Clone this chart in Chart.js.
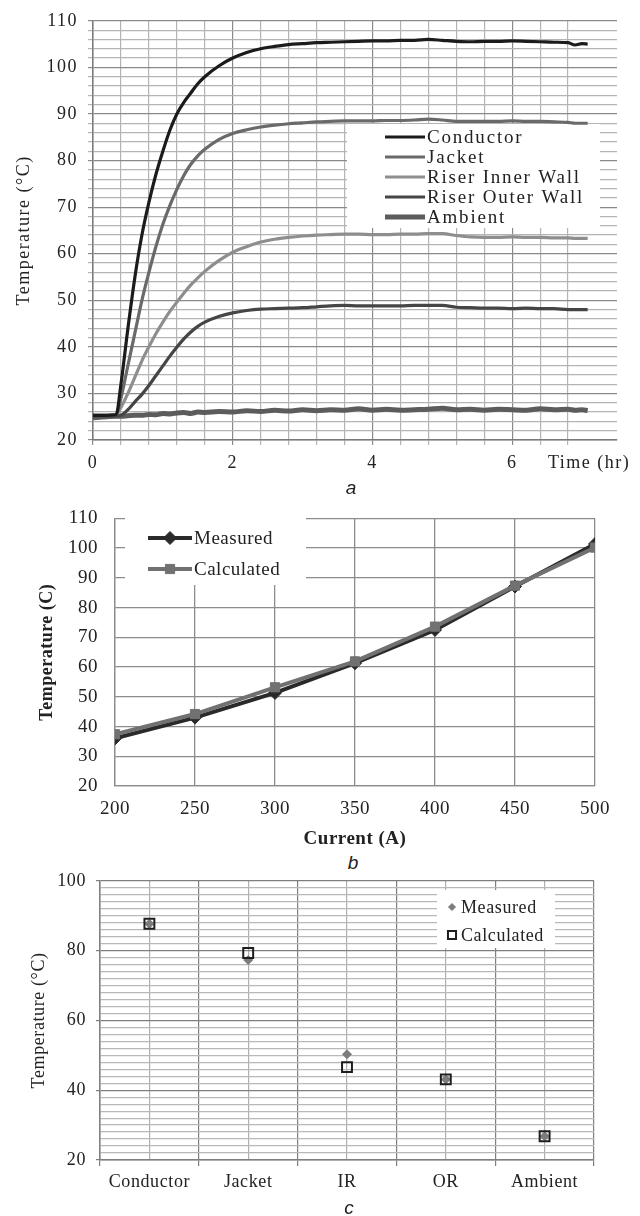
<!DOCTYPE html>
<html>
<head>
<meta charset="utf-8">
<script src="https://cdn.jsdelivr.net/npm/chart.js@4.4.1/dist/chart.umd.min.js"></script>
<style>
  body { margin: 0; background: #fff; width: 640px; height: 1216px; position: relative; overflow: hidden; }
  canvas { position: absolute; left: 0; }
  .cap { position: absolute; width: 40px; margin-left: -20px; height: 22px; line-height: 22px; text-align: center;
         font: italic 19px "Liberation Sans", Arial, sans-serif; color: #222; }
</style>
</head>
<body>
<canvas id="chartA" width="640" height="480" style="top:0px"></canvas>
<div class="cap" style="left:351px;top:477px">a</div>
<canvas id="chartB" width="640" height="362" style="top:490px"></canvas>
<div class="cap" style="left:353px;top:852px">b</div>
<canvas id="chartC" width="640" height="340" style="top:860px"></canvas>
<div class="cap" style="left:349px;top:1197px">c</div>

<script>
const SERIF = '"Liberation Serif", "Times New Roman", serif';

// --- a: temperatura vs tiempo ---
const horas = [0, 0.1, 0.2, 0.33, 0.4, 0.5, 0.6, 0.7, 0.8, 0.9, 1.0, 1.1, 1.2, 1.3, 1.4, 1.5, 1.6,
  1.8, 2.0, 2.2, 2.4, 2.6, 2.8, 3.0, 3.2, 3.4, 3.6, 3.8, 4.0, 4.2, 4.4, 4.6, 4.8, 5.0, 5.2, 5.4,
  5.6, 5.8, 6.0, 6.2, 6.4, 6.6, 6.8, 6.9, 7.0, 7.08];
const conductor = [25.3, 25.3, 25.3, 25.4, 32, 44, 55, 64, 71, 77, 82, 86.5, 90, 92.5, 94.5, 96.5, 98,
  100.3, 102, 103.2, 104, 104.5, 104.9, 105.1, 105.3, 105.4, 105.5, 105.6, 105.7, 105.7, 105.8, 105.8, 106.0, 105.8, 105.6, 105.5,
  105.6, 105.6, 105.7, 105.6, 105.5, 105.4, 105.3, 104.8, 105.1, 105.0];
const jacket = [25.3, 25.3, 25.3, 25.4, 29, 36, 43, 50, 56, 61.5, 66.3, 70.3, 73.8, 76.8, 79.2, 81.0, 82.4,
  84.5, 85.8, 86.6, 87.2, 87.6, 87.9, 88.1, 88.3, 88.4, 88.5, 88.5, 88.5, 88.6, 88.6, 88.7, 88.9, 88.7, 88.4, 88.4,
  88.4, 88.4, 88.5, 88.4, 88.4, 88.3, 88.2, 88.0, 88.0, 88.0];
const innerWall = [25.3, 25.3, 25.3, 25.4, 27, 30, 33.5, 37, 40, 42.8, 45.3, 47.6, 49.6, 51.5, 53.3, 54.8, 56.2,
  58.5, 60.3, 61.5, 62.5, 63.1, 63.5, 63.8, 64.0, 64.1, 64.2, 64.2, 64.1, 64.1, 64.2, 64.2, 64.3, 64.3, 63.9, 63.6,
  63.5, 63.5, 63.6, 63.5, 63.5, 63.4, 63.4, 63.3, 63.3, 63.3];
const outerWall = [25.2, 25.2, 25.2, 25.2, 25.3, 26.5, 28.2, 29.8, 31.7, 33.8, 35.9, 38.0, 39.9, 41.7, 43.2, 44.4, 45.3,
  46.5, 47.3, 47.8, 48.1, 48.2, 48.3, 48.4, 48.6, 48.8, 48.9, 48.8, 48.8, 48.8, 48.8, 48.9, 48.9, 48.9, 48.5, 48.4,
  48.3, 48.3, 48.2, 48.3, 48.2, 48.2, 48.0, 48.0, 48.0, 48.0];
const ambiente = [24.8, 24.9, 25.0, 25.1, 25.1, 25.2, 25.3, 25.3, 25.5, 25.4, 25.7, 25.6, 25.8, 25.9, 25.7, 26.0, 25.9,
  26.1, 26.0, 26.3, 26.1, 26.4, 26.2, 26.5, 26.3, 26.5, 26.4, 26.7, 26.4, 26.6, 26.4, 26.5, 26.6, 26.8, 26.5, 26.6,
  26.4, 26.6, 26.5, 26.4, 26.7, 26.5, 26.6, 26.4, 26.5, 26.3];

// --- b: temperatura vs corriente ---
const corrientes = [200, 250, 300, 350, 400, 450, 500];
const medidoB = [36.0, 43.0, 51.3, 61.3, 72.5, 87.1, 101.4];
const calculadoB = [37.4, 44.2, 53.2, 61.9, 73.6, 87.4, 100.2];

// --- c: medido vs calculado por capa ---
const partes = ['Conductor', 'Jacket', 'IR', 'OR', 'Ambient'];
const medidoC = [87.7, 77.3, 50.3, 43.1, 26.8];
const calculadoC = [87.7, 79.3, 46.6, 43.1, 26.8];

const puntos = (xs, ys) => xs.map((x, i) => ({ x: x, y: ys[i] }));
const multiplo = (v, m) => Math.abs(v / m - Math.round(v / m)) < 1e-6;
const NADA = 'rgba(0,0,0,0)';

// espaciado de letras (el texto del original es algo ancho)
const espaciado = {
  id: 'espaciado',
  beforeUpdate(chart, args, o) { chart.ctx.letterSpacing = o.valor || '0px'; },
  beforeDraw(chart, args, o) { chart.ctx.letterSpacing = o.valor || '0px'; }
};

// leyenda en caja blanca dentro del área del gráfico
const leyendaCaja = {
  id: 'leyendaCaja',
  beforeDatasetsDraw(chart, args, o) {
    if (!o.caja) return;
    const ctx = chart.ctx;
    const [x0, y0, x1, y1] = o.caja;
    ctx.save();
    ctx.fillStyle = '#fff';
    ctx.fillRect(x0, y0, x1 - x0, y1 - y0);
    ctx.font = o.fuente;
    if (o.espacio) ctx.letterSpacing = o.espacio;
    ctx.textBaseline = 'middle';
    ctx.textAlign = 'left';
    o.orden.forEach((idx, i) => {
      const ds = chart.data.datasets[idx];
      const y = o.primeraY + i * o.paso;
      if (o.linea) {
        ctx.strokeStyle = ds.borderColor;
        ctx.lineWidth = ds.borderWidth;
        ctx.beginPath();
        ctx.moveTo(o.linea[0], y);
        ctx.lineTo(o.linea[1], y);
        ctx.stroke();
      }
      if (o.marcador) {
        ctx.fillStyle = ds.pointBackgroundColor;
        ctx.strokeStyle = ds.pointBorderColor;
        ctx.lineWidth = ds.pointBorderWidth;
        const r = o.radios ? o.radios[i] : ds.pointRadius;
        Chart.helpers.drawPoint(ctx, { pointStyle: ds.pointStyle, radius: r, rotation: 0, borderWidth: ds.pointBorderWidth }, o.marcador, y);
      }
      ctx.fillStyle = o.color;
      ctx.fillText(ds.label, o.textoX, y + 1);
    });
    ctx.restore();
  }
};

// textos sueltos (p.ej. "Time (hr)")
const textoLibre = {
  id: 'textoLibre',
  afterDraw(chart, args, o) {
    if (!o.textos) return;
    const ctx = chart.ctx;
    ctx.save();
    o.textos.forEach(t => {
      ctx.font = t.fuente;
      ctx.fillStyle = t.color;
      ctx.textAlign = 'left';
      ctx.textBaseline = 'middle';
      ctx.fillText(t.texto, t.x, t.y);
    });
    ctx.restore();
  }
};

// ---------- a ----------
const coloresA = ['#1b1b1b', '#6a6a6a', '#8e8e8e', '#454545', '#5c5c5c'];
const seriesA = [
  { label: 'Conductor', data: conductor },
  { label: 'Jacket', data: jacket },
  { label: 'Riser Inner Wall', data: innerWall },
  { label: 'Riser Outer Wall', data: outerWall },
  { label: 'Ambient', data: ambiente }
];

new Chart(document.getElementById('chartA'), {
  type: 'line',
  data: {
    datasets: seriesA.map((s, i) => ({
      label: s.label,
      data: puntos(horas, s.data),
      borderColor: coloresA[i],
      backgroundColor: coloresA[i],
      borderWidth: i === 4 ? 5 : 3.2,
      pointRadius: 0,
      cubicInterpolationMode: 'monotone',
      fill: false
    }))
  },
  options: {
    responsive: false,
    animation: false,
    layout: { padding: { top: 16, right: 23, left: 0, bottom: 0 } },
    plugins: {
      legend: { display: false },
      tooltip: { enabled: false },
      espaciado: { valor: '1.5px' },
      leyendaCaja: {
        caja: [347, 124, 600, 228], orden: [0, 1, 2, 3, 4],
        primeraY: 137, paso: 20, linea: [385, 425], textoX: 427,
        fuente: '19px ' + SERIF, espacio: '1.8px', color: '#222'
      },
      textoLibre: {
        textos: [{ texto: 'Time (hr)', x: 548, y: 463, fuente: '18px ' + SERIF, color: '#222' }]
      }
    },
    scales: {
      x: {
        type: 'linear', min: 0, max: 7.5,
        afterFit: s => { s.height = 40; },
        ticks: {
          stepSize: 0.4, autoSkip: false, maxRotation: 0, padding: 7,
          font: { family: SERIF, size: 18 }, color: '#222',
          callback: v => (multiplo(v, 2) && v < 7) ? v : ''
        },
        grid: {
          color: c => c.tick.value > 7.3 ? NADA : (multiplo(c.tick.value, 2) ? '#8a8a8a' : '#b4b4b4'),
          tickLength: 5, lineWidth: 1.2
        },
        border: { color: '#7a7a7a', width: 1.5 }
      },
      y: {
        min: 20, max: 110,
        afterFit: s => { s.width = 93; },
        ticks: {
          stepSize: 2, autoSkip: false, padding: 10,
          font: { family: SERIF, size: 18 }, color: '#222',
          callback: v => multiplo(v, 10) ? v : ''
        },
        grid: {
          color: c => multiplo(c.tick.value, 10) ? '#8a8a8a' : '#b4b4b4',
          tickLength: 5, lineWidth: 1.2
        },
        border: { color: '#7a7a7a', width: 1.5 },
        title: { display: true, text: 'Temperature (°C)', font: { family: SERIF, size: 18 }, color: '#222', padding: { top: 13, bottom: 0 } }
      }
    }
  },
  plugins: [espaciado, leyendaCaja, textoLibre]
});

// ---------- b ----------
new Chart(document.getElementById('chartB'), {
  type: 'line',
  data: {
    datasets: [
      {
        label: 'Measured', data: puntos(corrientes, medidoB), order: 1,
        borderColor: '#2a2a2a', backgroundColor: '#2a2a2a', borderWidth: 4,
        pointStyle: 'rectRot', pointRadius: 6.5,
        pointBackgroundColor: '#2a2a2a', pointBorderColor: '#2a2a2a', pointBorderWidth: 1
      },
      {
        label: 'Calculated', data: puntos(corrientes, calculadoB), order: 0,
        borderColor: '#717171', backgroundColor: '#717171', borderWidth: 4,
        pointStyle: 'rect', pointRadius: 6.5,
        pointBackgroundColor: '#717171', pointBorderColor: '#717171', pointBorderWidth: 1
      }
    ]
  },
  options: {
    responsive: false,
    animation: false,
    layout: { padding: { top: 18, right: 45, left: 0, bottom: 0 } },
    plugins: {
      legend: { display: false },
      tooltip: { enabled: false },
      espaciado: { valor: '0.5px' },
      leyendaCaja: {
        caja: [125, 28, 306, 95], orden: [0, 1],
        primeraY: 48, paso: 31, linea: [148, 192], marcador: 170, textoX: 194,
        fuente: '19px ' + SERIF, color: '#222'
      }
    },
    scales: {
      x: {
        type: 'linear', min: 200, max: 500,
        afterFit: s => { s.height = 66; },
        ticks: { stepSize: 50, maxRotation: 0, padding: 12, font: { family: SERIF, size: 19 }, color: '#222' },
        grid: { color: '#8c8c8c', lineWidth: 1.3, drawTicks: false },
        border: { color: '#8c8c8c', width: 1.3 },
        title: { display: true, text: 'Current (A)', font: { family: SERIF, size: 19, weight: 'bold' }, color: '#222', padding: { top: 0, bottom: 2 } }
      },
      y: {
        min: 20, max: 110,
        afterFit: s => { s.width = 115; },
        ticks: { stepSize: 10, padding: 17, font: { family: SERIF, size: 19 }, color: '#222' },
        grid: { color: '#8c8c8c', lineWidth: 1.3, drawTicks: false },
        border: { color: '#8c8c8c', width: 1.3 },
        title: { display: true, text: 'Temperature (C)', font: { family: SERIF, size: 18, weight: 'bold' }, color: '#222', padding: { top: 37, bottom: 0 } }
      }
    }
  },
  plugins: [espaciado, leyendaCaja]
});

// ---------- c ----------
new Chart(document.getElementById('chartC'), {
  type: 'scatter',
  data: {
    datasets: [
      {
        label: 'Measured', data: medidoC.map((v, i) => ({ x: i + 1, y: v })), order: 1,
        pointStyle: 'rectRot', pointRadius: 4.5,
        backgroundColor: '#7c7c7c', borderColor: '#7c7c7c',
        pointBackgroundColor: '#7c7c7c', pointBorderColor: '#7c7c7c', pointBorderWidth: 1
      },
      {
        label: 'Calculated', data: calculadoC.map((v, i) => ({ x: i + 1, y: v })), order: 0,
        pointStyle: 'rect', pointRadius: 7,
        backgroundColor: NADA, borderColor: '#1e1e1e',
        pointBackgroundColor: NADA, pointBorderColor: '#1e1e1e', pointBorderWidth: 2
      }
    ]
  },
  options: {
    responsive: false,
    animation: false,
    layout: { padding: { top: 18, right: 46, left: 0, bottom: 0 } },
    plugins: {
      legend: { display: false },
      tooltip: { enabled: false },
      espaciado: { valor: '0.6px' },
      leyendaCaja: {
        caja: [437, 30, 555, 88], orden: [0, 1],
        primeraY: 47, paso: 28, marcador: 452, textoX: 461, radios: [3.5, 5.7],
        fuente: '18px ' + SERIF, color: '#222'
      }
    },
    scales: {
      x: {
        type: 'linear', min: 0.5, max: 5.5,
        afterFit: s => { s.height = 40; },
        ticks: {
          stepSize: 0.5, autoSkip: false, maxRotation: 0, padding: 5,
          font: { family: SERIF, size: 18 }, color: '#222',
          callback: v => Number.isInteger(v) ? partes[v - 1] : ''
        },
        grid: {
          color: c => Number.isInteger(c.tick.value) ? '#b0b0b0' : '#7f7f7f',
          tickColor: c => Number.isInteger(c.tick.value) ? NADA : '#7f7f7f',
          tickLength: 6, lineWidth: 1.2
        },
        border: { color: '#7f7f7f', width: 1.5 }
      },
      y: {
        min: 20, max: 100,
        afterFit: s => { s.width = 100; },
        ticks: {
          stepSize: 2, autoSkip: false, padding: 10,
          font: { family: SERIF, size: 18 }, color: '#222',
          callback: v => multiplo(v, 20) ? v : ''
        },
        grid: {
          color: c => multiplo(c.tick.value, 20) ? '#7f7f7f' : '#b8b8b8',
          tickColor: c => multiplo(c.tick.value, 20) ? '#7f7f7f' : NADA,
          tickLength: 4, lineWidth: 1.2
        },
        border: { color: '#7f7f7f', width: 1.5 },
        title: { display: true, text: 'Temperature (°C)', font: { family: SERIF, size: 18 }, color: '#222', padding: { top: 28, bottom: 0 } }
      }
    }
  },
  plugins: [espaciado, leyendaCaja]
});
</script>
</body>
</html>
